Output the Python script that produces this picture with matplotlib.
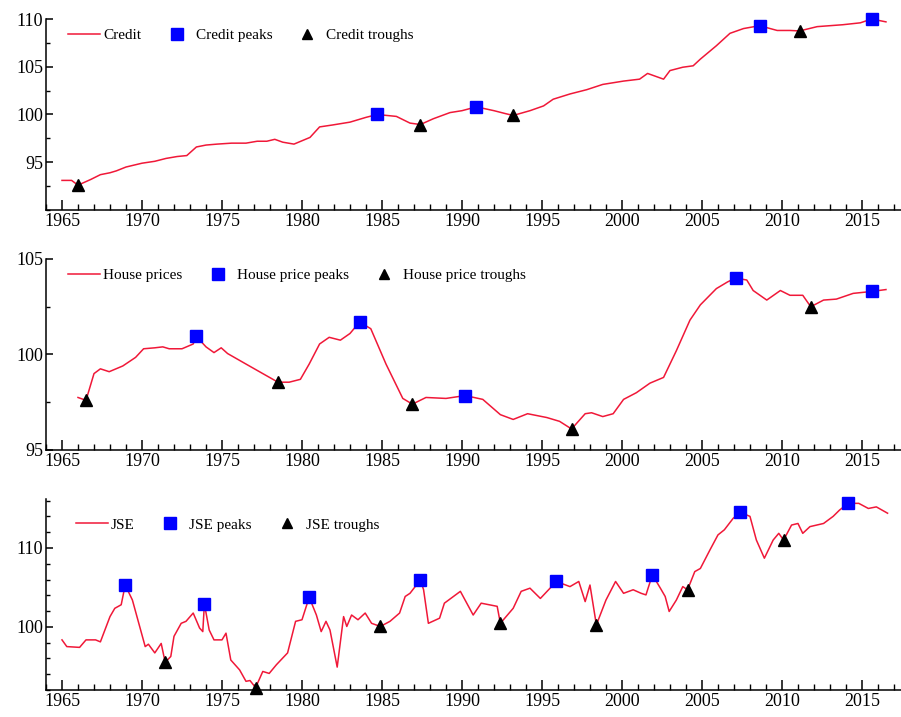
"""credit, house price and JSE cycles with turning points"""
import matplotlib
matplotlib.use('Agg')
import matplotlib.pyplot as plt
from matplotlib.ticker import MultipleLocator, FixedLocator

# credit series (index) and its turning points
credit_yr = [1965.0, 1965.6, 1966.0, 1966.8, 1967.4, 1968.0, 1968.4, 1969.0, 1970.0, 1970.8,
             1971.5, 1972.2, 1972.8, 1973.4, 1974.0, 1974.7, 1975.6, 1976.5, 1977.2, 1977.8,
             1978.3, 1978.8, 1979.5, 1980.5, 1981.1, 1981.9, 1983.0, 1984.0, 1984.7, 1985.9,
             1986.75, 1987.4, 1988.2, 1989.25, 1990.0, 1990.9, 1992.0, 1992.7, 1993.2, 1994.25,
             1995.1, 1995.7, 1996.75, 1997.8, 1998.8, 2000.1, 2001.1, 2001.6, 2002.6, 2003.0,
             2003.8, 2004.45, 2004.9, 2005.9, 2006.75, 2007.6, 2008.6, 2009.7, 2010.5, 2011.1,
             2012.2, 2013.0, 2013.8, 2014.9, 2015.6, 2016.5]
credit_val = [93.1, 93.1, 92.6, 93.2, 93.7, 93.9, 94.1, 94.5, 94.9, 95.1,
              95.4, 95.6, 95.7, 96.6, 96.8, 96.9, 97.0, 97.0, 97.2, 97.2,
              97.4, 97.1, 96.9, 97.6, 98.7, 98.9, 99.2, 99.7, 100.0, 99.8,
              99.1, 98.95, 99.55, 100.2, 100.4, 100.8, 100.4, 100.1, 99.9, 100.4,
              100.9, 101.6, 102.15, 102.6, 103.15, 103.5, 103.7, 104.3, 103.7, 104.6,
              104.95, 105.1, 105.8, 107.2, 108.5, 109.0, 109.3, 108.8, 108.8, 108.75,
              109.2, 109.3, 109.4, 109.6, 110.0, 109.7]
credit_peak_yr = [1984.7, 1990.9, 2008.6, 2015.6]
credit_peak_val = [100.0, 100.8, 109.3, 110.0]
credit_trough_yr = [1966.0, 1987.4, 1993.2, 2011.1]
credit_trough_val = [92.6, 98.95, 99.9, 108.75]

# house prices
house_yr = [1966.0, 1966.5, 1967.0, 1967.4, 1967.95, 1968.8, 1969.6, 1970.1, 1970.8, 1971.3,
            1971.7, 1972.5, 1973.2, 1973.4, 1974.0, 1974.5, 1974.95, 1975.35, 1976.5, 1977.55,
            1978.5, 1979.2, 1979.9, 1980.45, 1981.1, 1981.7, 1982.4, 1983.0, 1983.6, 1984.3,
            1985.25, 1986.3, 1986.9, 1987.75, 1989.0, 1990.2, 1991.3, 1992.4, 1993.2, 1994.1,
            1995.3, 1996.1, 1996.85, 1997.7, 1998.1, 1998.8, 1999.45, 2000.1, 2000.9, 2001.75,
            2002.6, 2003.4, 2004.25, 2004.9, 2005.9, 2006.6, 2007.1, 2007.8, 2008.2, 2009.05,
            2009.9, 2010.5, 2011.3, 2011.8, 2012.6, 2013.4, 2014.45, 2015.6, 2016.5]
house_val = [97.75, 97.6, 99.0, 99.25, 99.1, 99.4, 99.85, 100.3, 100.35, 100.4,
             100.3, 100.3, 100.55, 100.95, 100.4, 100.1, 100.35, 100.05, 99.5, 99.0,
             98.55, 98.55, 98.7, 99.5, 100.55, 100.9, 100.75, 101.1, 101.7, 101.35,
             99.5, 97.7, 97.4, 97.75, 97.7, 97.85, 97.65, 96.85, 96.6, 96.9,
             96.7, 96.5, 96.1, 96.9, 96.95, 96.75, 96.9, 97.65, 98.0, 98.5,
             98.8, 100.2, 101.8, 102.6, 103.45, 103.8, 104.0, 103.9, 103.35, 102.85,
             103.35, 103.1, 103.1, 102.5, 102.85, 102.9, 103.2, 103.3, 103.4]
house_peak_yr = [1973.4, 1983.6, 1990.2, 2007.1, 2015.6]
house_peak_val = [100.95, 101.7, 97.85, 104.0, 103.3]
house_trough_yr = [1966.5, 1978.5, 1986.9, 1996.85, 2011.8]
house_trough_val = [97.6, 98.55, 97.4, 96.1, 102.5]

# JSE share index
jse_yr = [1965.0, 1965.3, 1966.1, 1966.5, 1967.1, 1967.4, 1968.0, 1968.3, 1968.7, 1968.95,
          1969.4, 1969.8, 1970.2, 1970.4, 1970.8, 1971.2, 1971.45, 1971.8, 1972.0, 1972.45,
          1972.75, 1973.2, 1973.6, 1973.8, 1973.9, 1974.2, 1974.5, 1975.0, 1975.25, 1975.55,
          1976.1, 1976.5, 1976.75, 1977.1, 1977.55, 1977.95, 1978.4, 1979.1, 1979.6, 1980.0,
          1980.45, 1980.9, 1981.2, 1981.5, 1981.75, 1982.0, 1982.2, 1982.6, 1982.8, 1983.1,
          1983.5, 1983.95, 1984.35, 1984.9, 1985.5, 1986.1, 1986.45, 1986.75, 1987.4, 1987.6,
          1987.9, 1988.6, 1988.9, 1989.9, 1990.7, 1991.2, 1992.2, 1992.4, 1993.2, 1993.7,
          1994.25, 1994.9, 1995.9, 1996.75, 1997.3, 1997.7, 1998.0, 1998.4, 1999.0, 1999.6,
          2000.1, 2000.7, 2001.2, 2001.5, 2001.9, 2002.4, 2002.7, 2002.95, 2003.4, 2003.8,
          2004.1, 2004.55, 2004.9, 2005.5, 2006.0, 2006.4, 2006.95, 2007.4, 2008.0, 2008.4,
          2008.9, 2009.45, 2009.8, 2010.1, 2010.6, 2011.0, 2011.3, 2011.75, 2012.6, 2013.2,
          2013.6, 2014.15, 2014.8, 2015.4, 2015.9, 2016.6]
jse_val = [98.35, 97.5, 97.4, 98.35, 98.35, 98.1, 101.3, 102.35, 102.8, 105.3,
           103.4, 100.45, 97.5, 97.8, 96.7, 97.9, 95.5, 96.25, 98.8, 100.45,
           100.7, 101.75, 99.85, 99.4, 102.9, 99.6, 98.35, 98.35, 99.2, 95.8,
           94.55, 93.1, 93.2, 92.3, 94.35, 94.1, 95.2, 96.7, 100.7, 100.9,
           103.75, 101.5, 99.4, 100.7, 99.6, 97.0, 94.9, 101.3, 100.05, 101.5,
           100.9, 101.75, 100.45, 100.05, 100.7, 101.75, 103.85, 104.25, 105.95, 104.7,
           100.45, 101.1, 103.0, 104.5, 101.5, 103.0, 102.6, 100.45, 102.35, 104.5,
           104.9, 103.6, 105.75, 105.1, 105.75, 103.2, 105.3, 100.25, 103.4, 105.75,
           104.25, 104.7, 104.25, 104.05, 106.6, 104.9, 103.85, 101.95, 103.4, 105.1,
           104.7, 107.0, 107.4, 109.75, 111.65, 112.3, 113.75, 114.5, 114.0, 111.0,
           108.7, 111.0, 111.85, 111.0, 112.9, 113.1, 111.85, 112.7, 113.1, 114.0,
           114.8, 115.65, 115.65, 115.0, 115.2, 114.4]
jse_peak_yr = [1968.95, 1973.9, 1980.45, 1987.4, 1995.9, 2001.9, 2007.4, 2014.15]
jse_peak_val = [105.3, 102.9, 103.75, 105.95, 105.75, 106.6, 114.5, 115.65]
jse_trough_yr = [1971.45, 1977.1, 1984.9, 1992.4, 1998.4, 2004.1, 2010.1]
jse_trough_val = [95.5, 92.3, 100.05, 100.45, 100.25, 104.7, 111.0]

LINE_COL = '#f01838'


def panel(fig, rect, name, plural, yr, val, pk_yr, pk_val, tr_yr, tr_val,
          ylim, yticks, yminor, leg_pos):
    ax = fig.add_axes(rect)
    ax.plot(yr, val, color=LINE_COL, lw=1.1, label=name)
    ax.plot(pk_yr, pk_val, 's', color='#0000ff', ms=9, label=plural + ' peaks',
            clip_on=False)
    ax.plot(tr_yr, tr_val, '^', color='black', ms=8, label=plural + ' troughs',
            clip_on=False)

    ax.set_xlim(1964, 2017.44)
    ax.set_ylim(*ylim)
    ax.xaxis.set_major_locator(FixedLocator(list(range(1965, 2020, 5))))
    ax.xaxis.set_minor_locator(MultipleLocator(1))
    ax.yaxis.set_major_locator(FixedLocator(yticks))
    ax.yaxis.set_minor_locator(MultipleLocator(yminor))

    for s in ('top', 'right'):
        ax.spines[s].set_visible(False)
    for s in ('left', 'bottom'):
        ax.spines[s].set_linewidth(1.1)
    ax.tick_params(axis='x', which='major', direction='in', length=7, width=1.1,
                   pad=2, labelsize=13)
    ax.tick_params(axis='x', which='minor', direction='in', length=4, width=1.0)
    ax.tick_params(axis='y', which='major', direction='in', length=5, width=1.1,
                   pad=2, labelsize=13)
    ax.tick_params(axis='y', which='minor', direction='in', length=3, width=1.0)

    ax.legend(loc='center left', bbox_to_anchor=leg_pos, ncol=3, frameon=False,
              fontsize=11, handlelength=2.1, handletextpad=0.2, columnspacing=1.25,
              borderpad=0, borderaxespad=0, numpoints=1, markerscale=0.9)
    return ax


def main():
    plt.rcParams['font.family'] = ['Liberation Serif', 'DejaVu Serif']
    fig = plt.figure(figsize=(9.01, 7.17), dpi=100)

    left = 46 / 901.
    width = 1 - left
    height = 191 / 717.

    panel(fig, [left, 1 - 210 / 717., width, height], 'Credit', 'Credit',
          credit_yr, credit_val, credit_peak_yr, credit_peak_val,
          credit_trough_yr, credit_trough_val,
          (90, 110), [95, 100, 105, 110], 2.5, (0.026, 0.916))

    panel(fig, [left, 1 - 450 / 717., width, height], 'House prices', 'House price',
          house_yr, house_val, house_peak_yr, house_peak_val,
          house_trough_yr, house_trough_val,
          (95, 105), [95, 100, 105], 2.5, (0.026, 0.916))

    panel(fig, [left, 1 - 690 / 717., width, height], 'JSE', 'JSE',
          jse_yr, jse_val, jse_peak_yr, jse_peak_val,
          jse_trough_yr, jse_trough_val,
          (92, 116.2), [100, 110], 2, (0.035, 0.864))

    fig.savefig('out.png', dpi=100)

main()
